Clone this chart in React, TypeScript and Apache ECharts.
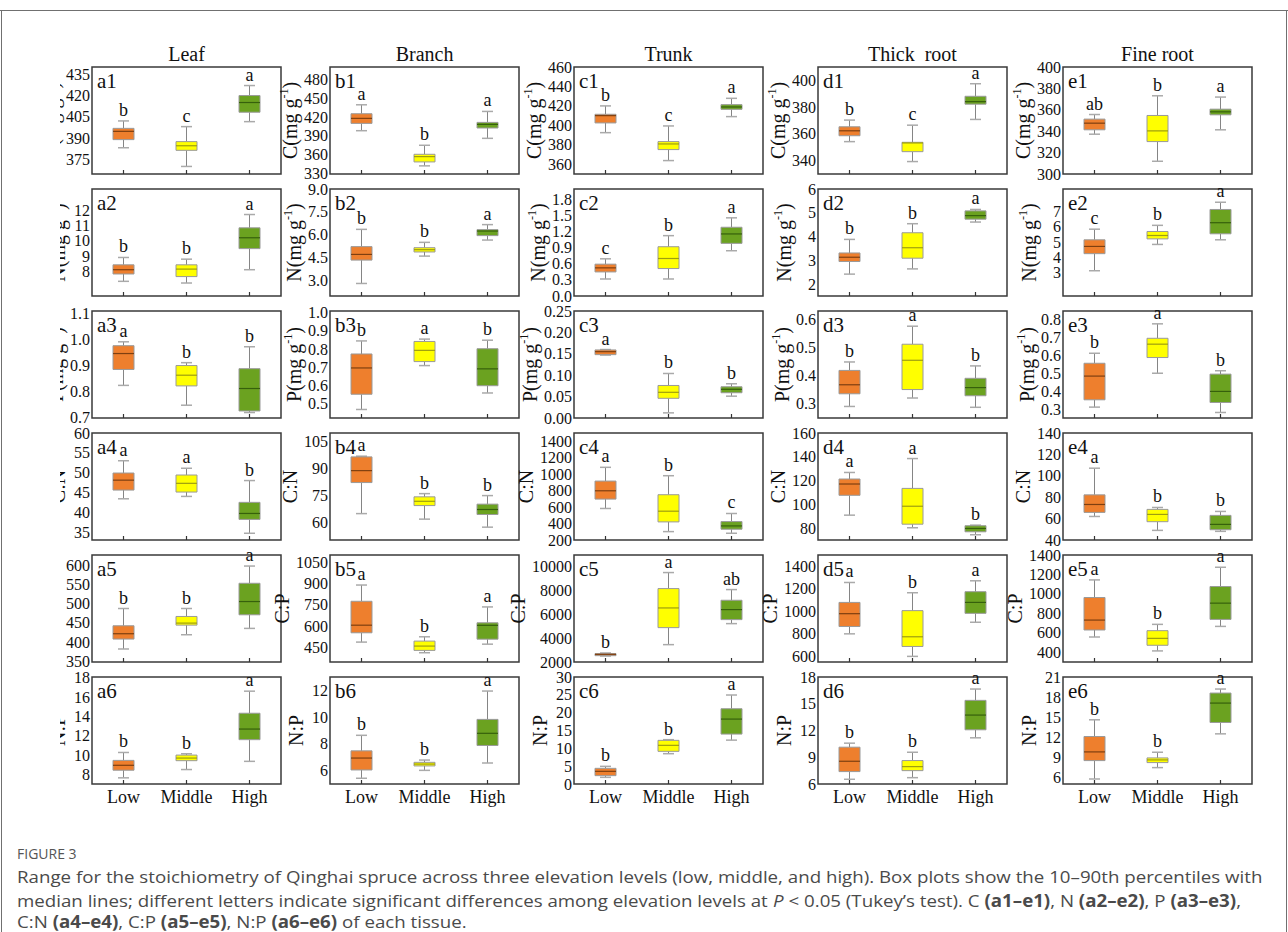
import React, { useEffect, useRef } from "react";
import * as echarts from "echarts";

const TISSUES = ["Leaf", "Branch", "Trunk", "Thick  root", "Fine root"];
const LEVELS = ["Low", "Middle", "High"];
const COL_IDS = ["a", "b", "c", "d", "e"];

// Each box: [min, Q1, median, Q3, max]; per tissue: [Low, Middle, High]
const C_BOX = [
  [[383.4, 389.1, 394.9, 397, 402.2], [370.3, 381.6, 384.8, 387.7, 398.2], [401.7, 408.3, 415.1, 420, 427]],
  [[398.2, 409.9, 417.9, 425.3, 439.6], [342, 348.3, 356.8, 360.5, 374.9], [386, 402.5, 408.3, 411.5, 429]],
  [[392.5, 402.5, 410, 411.4, 420], [363.8, 375.1, 380.9, 383.3, 399.4], [409, 416.5, 418.9, 421.3, 427.8]],
  [[354.2, 358.6, 362.3, 365.3, 370.3], [339.3, 346.7, 353.2, 353.7, 366.5], [370.8, 382.2, 384.1, 388.1, 397.5]],
  [[337.2, 341.3, 347.5, 351.3, 355.6], [311.9, 330.3, 340.3, 354.7, 373.1], [341.3, 355.3, 358.1, 360.6, 371.9]],
];
const N_BOX = [
  [[7.36, 7.84, 8.12, 8.44, 8.92], [7.25, 7.67, 8.16, 8.44, 8.81], [8.12, 9.5, 10.21, 10.86, 11.73]],
  [[2.82, 4.35, 4.72, 5.23, 6.36], [4.61, 4.88, 5.03, 5.16, 5.51], [5.66, 5.95, 6.25, 6.34, 6.67]],
  [[0.318, 0.45, 0.526, 0.595, 0.695], [0.318, 0.513, 0.701, 0.921, 1.128], [0.846, 0.984, 1.16, 1.285, 1.461]],
  [[2.42, 2.95, 3.13, 3.31, 3.88], [2.64, 3.09, 3.53, 4.16, 4.54], [4.61, 4.73, 4.88, 5.08, 5.14]],
  [[3.14, 4.25, 4.72, 5.15, 5.84], [4.85, 5.21, 5.43, 5.69, 6.09], [5.15, 5.54, 6.26, 7.12, 7.59]],
];
const P_BOX = [
  [[0.823, 0.884, 0.945, 0.975, 0.99], [0.747, 0.821, 0.862, 0.899, 0.91], [0.719, 0.725, 0.811, 0.887, 0.971]],
  [[0.467, 0.551, 0.696, 0.773, 0.845], [0.709, 0.731, 0.793, 0.842, 0.855], [0.558, 0.598, 0.691, 0.802, 0.849]],
  [[0.147, 0.148, 0.155, 0.159, 0.16], [0.012, 0.046, 0.06, 0.076, 0.104], [0.051, 0.059, 0.067, 0.073, 0.08]],
  [[0.291, 0.336, 0.368, 0.419, 0.449], [0.321, 0.351, 0.455, 0.512, 0.576], [0.288, 0.329, 0.358, 0.391, 0.435]],
  [[0.311, 0.352, 0.485, 0.557, 0.613], [0.501, 0.589, 0.664, 0.697, 0.778], [0.281, 0.337, 0.399, 0.496, 0.515]],
];
const CN_BOX = [
  [[43.4, 45.6, 48.1, 49.9, 53], [44, 45.1, 47.3, 49.4, 51.1], [34.7, 38.2, 39.7, 42.5, 48]],
  [[64.8, 82.2, 88.9, 96.6, 97], [61.7, 69.3, 71.7, 74.2, 76], [57.2, 64.3, 67.1, 70.1, 74.9]],
  [[583, 697, 798, 916, 1083], [302, 420, 550, 750, 981], [282, 331, 371, 424, 522]],
  [[90.9, 107.6, 117.1, 121.3, 126.8], [80.3, 83.3, 98.4, 113.4, 138.5], [74.4, 76.9, 79.7, 82, 82.5]],
  [[62, 65.8, 73.2, 82.2, 107.1], [49, 57.1, 63.9, 68.6, 70.4], [48.1, 49.6, 54.6, 63, 66.7]],
];
const CP_BOX = [
  [[382.7, 408.4, 422.2, 442.8, 487.5], [419.6, 444.5, 449.7, 466.9, 487.5], [436, 471.2, 505.5, 552.8, 597.4]],
  [[489.5, 554.7, 608, 775.6, 889.5], [415, 431.4, 461.6, 496.5, 526.7], [475, 510, 607, 625, 736]],
  [[2505, 2533, 2646, 2702, 2758], [3460, 4891, 6547, 8175, 9523], [5228, 5565, 6407, 7193, 8091]],
  [[800, 865, 979, 1079, 1256], [600, 688, 774, 1006, 1165], [903, 982, 1079, 1174, 1271]],
  [[557, 629, 731, 963, 1144], [414, 472, 543, 622, 687], [666, 738, 905, 1076, 1274]],
];
const NP_BOX = [
  [[7.64, 8.43, 8.94, 9.45, 10.27], [8.5, 9.42, 9.69, 10.0, 10.14], [9.35, 11.6, 12.7, 14.34, 16.63]],
  [[5.43, 6.05, 6.94, 7.48, 8.64], [6.02, 6.35, 6.49, 6.62, 6.79], [6.57, 7.88, 8.79, 9.83, 11.95]],
  [[1.87, 2.34, 3.55, 4.39, 4.95], [8.5, 9.16, 10.84, 12.24, 12.43], [12.3, 14.0, 18.2, 21.1, 24.95]],
  [[6.53, 7.39, 8.55, 10.13, 10.58], [6.71, 7.5, 7.95, 8.63, 9.56], [11.18, 12.08, 13.73, 15.38, 16.65]],
  [[5.75, 8.5, 9.8, 12.1, 14.6], [7.45, 8.2, 8.6, 8.9, 9.75], [12.5, 14.2, 17.1, 18.6, 19.2]],
];

// significance letters per tissue [Low, Middle, High]
const C_LET = [["b", "c", "a"], ["a", "b", "a"], ["b", "c", "a"], ["b", "c", "a"], ["ab", "b", "a"]];
const N_LET = [["b", "b", "a"], ["b", "b", "a"], ["c", "b", "a"], ["b", "b", "a"], ["c", "b", "a"]];
const P_LET = [["a", "b", "b"], ["b", "a", "b"], ["a", "b", "b"], ["b", "a", "b"], ["b", "a", "b"]];
const CN_LET = [["a", "a", "b"], ["a", "b", "b"], ["a", "b", "c"], ["a", "a", "b"], ["a", "b", "b"]];
const CP_LET = [["b", "b", "a"], ["a", "b", "a"], ["b", "a", "ab"], ["a", "b", "a"], ["a", "b", "a"]];
const NP_LET = [["b", "b", "a"], ["b", "b", "a"], ["b", "b", "a"], ["b", "b", "a"], ["b", "b", "a"]];

// axis ranges [min, max] per tissue
const C_RANGE = [[365, 440], [329, 500], [350, 460], [330, 410], [300, 400]];
const N_RANGE = [[6.4, 13.4], [2, 9], [0, 2], [1.5, 6], [1.5, 8.45]];
const P_RANGE = [[0.698, 1.108], [0.42, 1.01], [0, 0.25], [0.25, 0.63], [0.25, 0.85]];
const CN_RANGE = [[33, 60], [50, 110], [200, 1500], [70, 160], [40, 140]];
const CP_RANGE = [[349, 626], [350, 1100], [2000, 11000], [550, 1500], [300, 1400]];
const NP_RANGE = [[7, 18.1], [5, 13], [0, 30], [6, 18], [5, 21]];

// tick labels per tissue
const C_TICKS = [[375, 390, 405, 420, 435], [330, 360, 390, 420, 450, 480], [360, 380, 400, 420, 440, 460], [340, 360, 380, 400], [300, 320, 340, 360, 380, 400]];
const N_TICKS = [[7, 8, 9, 10, 11, 12, 13], [3.0, 4.5, 6.0, 7.5, 9.0], [0.0, 0.3, 0.6, 0.9, 1.2, 1.5, 1.8], [2, 3, 4, 5, 6], [2, 3, 4, 5, 6, 7, 8]];
const P_TICKS = [[0.7, 0.8, 0.9, 1.0, 1.1], [0.5, 0.6, 0.7, 0.8, 0.9, 1.0], [0.0, 0.05, 0.1, 0.15, 0.2, 0.25], [0.3, 0.4, 0.5, 0.6], [0.3, 0.4, 0.5, 0.6, 0.7, 0.8]];
const CN_TICKS = [[35, 40, 45, 50, 55, 60], [60, 75, 90, 105], [200, 400, 600, 800, 1000, 1200, 1400], [80, 100, 120, 140, 160], [40, 60, 80, 100, 120, 140]];
const CP_TICKS = [[350, 400, 450, 500, 550, 600], [450, 600, 750, 900, 1050], [2000, 4000, 6000, 8000, 10000], [600, 800, 1000, 1200, 1400], [400, 600, 800, 1000, 1200, 1400]];
const NP_TICKS = [[8, 10, 12, 14, 16, 18], [6, 8, 10, 12], [0, 5, 10, 15, 20, 25, 30], [6, 9, 12, 15, 18], [6, 9, 12, 15, 18, 21]];

const C_DEC = [0, 0, 0, 0, 0];
const N_DEC = [0, 1, 1, 0, 0];
const P_DEC = [1, 1, 2, 1, 1];
const CN_DEC = [0, 0, 0, 0, 0];
const CP_DEC = [0, 0, 0, 0, 0];
const NP_DEC = [0, 0, 0, 0, 0];

const ROW_NAMES = [
  "{t|C(mg g}{s|-1}{t|)}",
  "{t|N(mg g}{s|-1}{t|)}",
  "{t|P(mg g}{s|-1}{t|)}",
  "{t|C:N}",
  "{t|C:P}",
  "{t|N:P}",
];

const ROWS = [
  { box: C_BOX, let: C_LET, range: C_RANGE, ticks: C_TICKS, dec: C_DEC },
  { box: N_BOX, let: N_LET, range: N_RANGE, ticks: N_TICKS, dec: N_DEC },
  { box: P_BOX, let: P_LET, range: P_RANGE, ticks: P_TICKS, dec: P_DEC },
  { box: CN_BOX, let: CN_LET, range: CN_RANGE, ticks: CN_TICKS, dec: CN_DEC },
  { box: CP_BOX, let: CP_LET, range: CP_RANGE, ticks: CP_TICKS, dec: CP_DEC },
  { box: NP_BOX, let: NP_LET, range: NP_RANGE, ticks: NP_TICKS, dec: NP_DEC },
];

// layout
const COL_LEFT = [92, 330, 574, 818, 1063];
const PANEL_W = 189;
const ROW_TOP = [67, 189, 311, 433, 555, 677];
const PANEL_H = 107;

const SERIF = "'Liberation Serif', 'Times New Roman', serif";
const CAP_FONT = "'Open Sans', 'Noto Sans', sans-serif";
const FILLS = ["#EE7F2D", "#FFFF00", "#6BA220"];
const MEDIANS = ["#7E3F10", "#9E9E10", "#36600C"];
const BOX_BORDER = "#9a9a9a";
const WHISKER = "#858585";
const TEXT = "#111111";

function buildOption() {
  const grid: any[] = [];
  const xAxis: any[] = [];
  const yAxis: any[] = [];
  const series: any[] = [];
  const graphic: any[] = [];

  ROWS.forEach((row, r) => {
    for (let c = 0; c < 5; c++) {
      const k = r * 5 + c;
      const left = COL_LEFT[c];
      const top = ROW_TOP[r];
      grid.push({
        left, top, width: PANEL_W, height: PANEL_H,
        show: true, borderColor: "#3a3a3a", borderWidth: 1.5, backgroundColor: "transparent",
      });
      xAxis.push({
        gridIndex: k, type: "category", data: LEVELS,
        axisLine: { show: false },
        axisTick: { show: true, inside: true, length: 4, alignWithLabel: true, interval: 0, lineStyle: { color: "#333", width: 1.2 } },
        axisLabel: { show: r === 5, interval: 0, fontSize: 18, fontFamily: SERIF, color: TEXT, margin: 4 },
        splitLine: { show: false },
      });
      const dec = row.dec[c];
      yAxis.push({
        gridIndex: k, type: "value",
        min: row.range[c][0], max: row.range[c][1],
        axisLine: { show: false },
        axisTick: { show: false },
        splitLine: { show: false },
        axisLabel: {
          fontSize: 16, fontFamily: SERIF, color: TEXT, margin: 2,
          customValues: row.ticks[c],
          formatter: (v: number) => Number(v).toFixed(dec),
        },
        name: ROW_NAMES[r],
        nameLocation: "middle",
        nameRotate: 90,
        nameGap: 22,
        nameTextStyle: {
          rich: {
            t: { fontSize: 20, fontFamily: SERIF, color: TEXT, lineHeight: 24 },
            s: { fontSize: 12, fontFamily: SERIF, color: TEXT, verticalAlign: "top", lineHeight: 12 },
          },
        },
      });
      const boxes = row.box[c];
      const letters = row.let[c];
      series.push({
        type: "custom",
        xAxisIndex: k, yAxisIndex: k,
        data: boxes.map((b, i) => [i, b[0], b[1], b[2], b[3], b[4]]),
        encode: { x: 0, y: [1, 2, 3, 4, 5] },
        clip: false,
        renderItem: (params: any, api: any) => {
          const idx = api.value(0);
          const ys = [1, 2, 3, 4, 5].map((d) => api.coord([idx, api.value(d)])[1]);
          const x = api.coord([idx, api.value(1)])[0];
          const [yMin, yQ1, yMed, yQ3, yMax] = ys;
          const hw = 10.5;
          const cw = 5.5;
          const di = params.dataIndex;
          return {
            type: "group",
            children: [
              { type: "line", shape: { x1: x, y1: yQ3, x2: x, y2: yMax }, style: { stroke: WHISKER, lineWidth: 1 } },
              { type: "line", shape: { x1: x, y1: yQ1, x2: x, y2: yMin }, style: { stroke: WHISKER, lineWidth: 1 } },
              { type: "line", shape: { x1: x - cw, y1: yMax, x2: x + cw, y2: yMax }, style: { stroke: "#aaaaaa", lineWidth: 1.5 } },
              { type: "line", shape: { x1: x - cw, y1: yMin, x2: x + cw, y2: yMin }, style: { stroke: "#aaaaaa", lineWidth: 1.5 } },
              {
                type: "rect",
                shape: { x: x - hw, y: yQ3, width: hw * 2, height: Math.max(yQ1 - yQ3, 1) },
                style: { fill: FILLS[di], stroke: BOX_BORDER, lineWidth: 1 },
              },
              { type: "line", shape: { x1: x - hw, y1: yMed, x2: x + hw, y2: yMed }, style: { stroke: MEDIANS[di], lineWidth: 1.2 } },
              {
                type: "text",
                x, y: yMax - 2,
                style: { text: letters[di], fontSize: 18, fontFamily: SERIF, fill: TEXT, align: "center", verticalAlign: "bottom" },
              },
            ],
          };
        },
      });
      graphic.push({
        type: "text", x: left + 5, y: top + 3, z: 10,
        style: { text: `${COL_IDS[c]}${r + 1}`, fontSize: 21, fontFamily: SERIF, fill: TEXT, align: "left", verticalAlign: "top" },
      });
    }
  });

  TISSUES.forEach((t, c) => {
    graphic.push({
      type: "text", x: COL_LEFT[c] + PANEL_W / 2, y: 54, z: 10,
      style: { text: t, fontSize: 20, fontFamily: SERIF, fill: TEXT, align: "center", verticalAlign: "middle" },
    });
  });

  // clip of the first column's axis names (figure edge)
  graphic.push({ type: "rect", shape: { x: 2, y: 40, width: 58, height: 760 }, style: { fill: "#ffffff" }, z: 50 });

  // card frame
  const frame = { stroke: "#707070", lineWidth: 1 };
  graphic.push({ type: "line", shape: { x1: 0, y1: 10.5, x2: 1288, y2: 10.5 }, style: frame, z: 60 });
  graphic.push({ type: "line", shape: { x1: 1.5, y1: 10, x2: 1.5, y2: 932 }, style: frame, z: 60 });
  graphic.push({ type: "line", shape: { x1: 1286.5, y1: 10, x2: 1286.5, y2: 932 }, style: frame, z: 60 });

  // caption
  const CS = 17;
  const LH = 18;
  const capRich = {
    n: { fontSize: CS, lineHeight: LH, fontFamily: CAP_FONT, fill: "#4a4a4a" },
    b: { fontSize: CS, lineHeight: LH, fontFamily: CAP_FONT, fill: "#4a4a4a", fontWeight: "bold" },
    i: { fontSize: CS, lineHeight: LH, fontFamily: CAP_FONT, fill: "#4a4a4a", fontStyle: "italic" },
  };
  graphic.push({
    type: "text", x: 17, y: 853, z: 60,
    style: { text: "FIGURE 3", fontSize: 14, fontFamily: CAP_FONT, fill: "#555555", verticalAlign: "middle" },
  });
  const capLines = [
    "{n|Range for the stoichiometry of Qinghai spruce across three elevation levels (low, middle, and high). Box plots show the 10–90th percentiles with}",
    "{n|median lines; different letters indicate significant differences among elevation levels at }{i|P}{n| < 0.05 (Tukey’s test). C }{b|(a1–e1)}{n|, N }{b|(a2–e2)}{n|, P }{b|(a3–e3)}{n|,}",
    "{n|C:N }{b|(a4–e4)}{n|, C:P }{b|(a5–e5)}{n|, N:P }{b|(a6–e6)}{n| of each tissue.}",
  ];
  const capY = [876, 900, 921];
  capLines.forEach((t, i) => {
    graphic.push({
      type: "text", x: 17, y: capY[i], z: 60, scaleX: 1.1,
      style: { text: t, rich: capRich, fontSize: CS, lineHeight: LH, fontFamily: CAP_FONT, fill: "#4a4a4a", verticalAlign: "middle" },
    });
  });

  return {
    animation: false,
    backgroundColor: "#ffffff",
    grid, xAxis, yAxis, series, graphic,
  };
}

export default function App() {
  const ref = useRef<HTMLDivElement>(null);
  useEffect(() => {
    document.body.style.margin = "0";
    if (!ref.current) return;
    const chart = echarts.init(ref.current, null, { renderer: "svg" });
    chart.setOption(buildOption() as any);
    return () => chart.dispose();
  }, []);
  return <div ref={ref} style={{ width: 1288, height: 932 }} />;
}
